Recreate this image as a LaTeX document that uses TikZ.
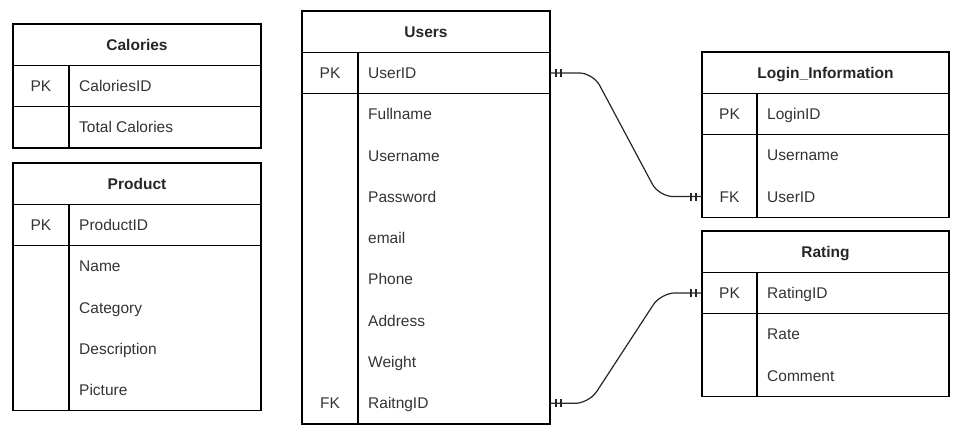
\documentclass[tikz,border=0pt]{standalone}
\usepackage{fontspec}
\setmainfont{Liberation Sans}
\usetikzlibrary{decorations.markings}
\newcommand\rowh{41.3}
\tikzset{
  tbl/.style={draw=black,line width=1.3pt},
  ttl/.style={font=\fontsize{15.5}{18}\selectfont\bfseries,text=black!85,inner sep=0pt,text height=11.1pt,text depth=0pt},
  keytxt/.style={font=\fontsize{15.5}{18}\selectfont,text=black!80,inner sep=0pt,text height=11.1pt,text depth=0pt},
  fld/.style={font=\fontsize{15.5}{18}\selectfont,text=black!80,inner sep=0pt,anchor=west,text height=11.1pt,text depth=0pt},
  conn/.style={draw=black!85,line width=1.2pt,rounded corners=14pt},
  mandone/.style={postaction={decorate,decoration={markings,
      mark=at position 6pt with {\draw[draw=black!85,line width=1.2pt] (0,-4pt)--(0,4pt);},
      mark=at position 11pt with {\draw[draw=black!85,line width=1.2pt] (0,-4pt)--(0,4pt);},
      mark=at position -11pt with {\draw[draw=black!85,line width=1.2pt] (0,-4pt)--(0,4pt);},
      mark=at position -6pt with {\draw[draw=black!85,line width=1.2pt] (0,-4pt)--(0,4pt);}}}}
}
% #1 name #2 left #3 div #4 right #5 top #6 title #7 pk field #8 number of lower rows
\newcommand\erbox[8]{%
  \pgfmathsetmacro\erya{#5+\rowh}%
  \pgfmathsetmacro\eryb{#5+2*\rowh}%
  \pgfmathsetmacro\eryc{#5+(2+#8)*\rowh}%
  \pgfmathsetmacro\erym{#5+1.5*\rowh}%
  \draw[tbl] (#2,#5) rectangle (#4,\eryc);
  \draw[tbl] (#2,\erya) -- (#4,\erya) (#2,\eryb) -- (#4,\eryb) (#3,\erya) -- (#3,\eryc);
  \node[ttl] (#1-title) at ({(#2+#4)/2},{#5+\rowh/2}) {#6};
  \node[keytxt] (#1-pkkey) at ({(#2+#3)/2},\erym) {PK};
  \node[fld] (#1-pk) at (#3+10,\erym) {#7};
  \coordinate (#1-pkE) at (#4,\erym);
  \coordinate (#1-pkW) at (#2,\erym);
}
% #1 name #2 left #3 div #4 right #5 top #6 row index (1..) #7 key #8 text
\newcommand\erfield[8]{%
  \pgfmathsetmacro\erym{#5+(1.5+#6)*\rowh}%
  \node[keytxt] (#1-k#6) at ({(#2+#3)/2},\erym) {#7};
  \node[fld] (#1-r#6) at (#3+10,\erym) {#8};
  \coordinate (#1-r#6E) at (#4,\erym);
  \coordinate (#1-r#6W) at (#2,\erym);
}
\begin{document}
\begin{tikzpicture}[x=1pt,y=-1pt]
\useasboundingbox (0,0) rectangle (964,435);
% Calories
\erbox{cal}{13}{69}{261}{24}{Calories}{CaloriesID}{1}
\erfield{cal}{13}{69}{261}{24}{1}{}{Total Calories}
% Product
\erbox{prod}{13}{69}{261}{163}{Product}{ProductID}{4}
\erfield{prod}{13}{69}{261}{163}{1}{}{Name}
\erfield{prod}{13}{69}{261}{163}{2}{}{Category}
\erfield{prod}{13}{69}{261}{163}{3}{}{Description}
\erfield{prod}{13}{69}{261}{163}{4}{}{Picture}
% Users
\erbox{users}{302}{358}{550}{11}{Users}{UserID}{8}
\erfield{users}{302}{358}{550}{11}{1}{}{Fullname}
\erfield{users}{302}{358}{550}{11}{2}{}{Username}
\erfield{users}{302}{358}{550}{11}{3}{}{Password}
\erfield{users}{302}{358}{550}{11}{4}{}{email}
\erfield{users}{302}{358}{550}{11}{5}{}{Phone}
\erfield{users}{302}{358}{550}{11}{6}{}{Address}
\erfield{users}{302}{358}{550}{11}{7}{}{Weight}
\erfield{users}{302}{358}{550}{11}{8}{FK}{RaitngID}
% Login_Information
\erbox{login}{702}{757}{949}{52}{Login\_Information}{LoginID}{2}
\erfield{login}{702}{757}{949}{52}{1}{}{Username}
\erfield{login}{702}{757}{949}{52}{2}{FK}{UserID}
% Rating
\erbox{rating}{702}{757}{949}{231}{Rating}{RatingID}{2}
\erfield{rating}{702}{757}{949}{231}{1}{}{Rate}
\erfield{rating}{702}{757}{949}{231}{2}{}{Comment}
% connectors
\draw[conn,mandone] (users-pkE) -- ++(43,0) -- ([xshift=-43pt]login-r2W) -- (login-r2W);
\draw[conn,mandone] (users-r8E) -- ++(39,0) -- ([xshift=-41pt]rating-pkW) -- (rating-pkW);
\end{tikzpicture}
\end{document}
